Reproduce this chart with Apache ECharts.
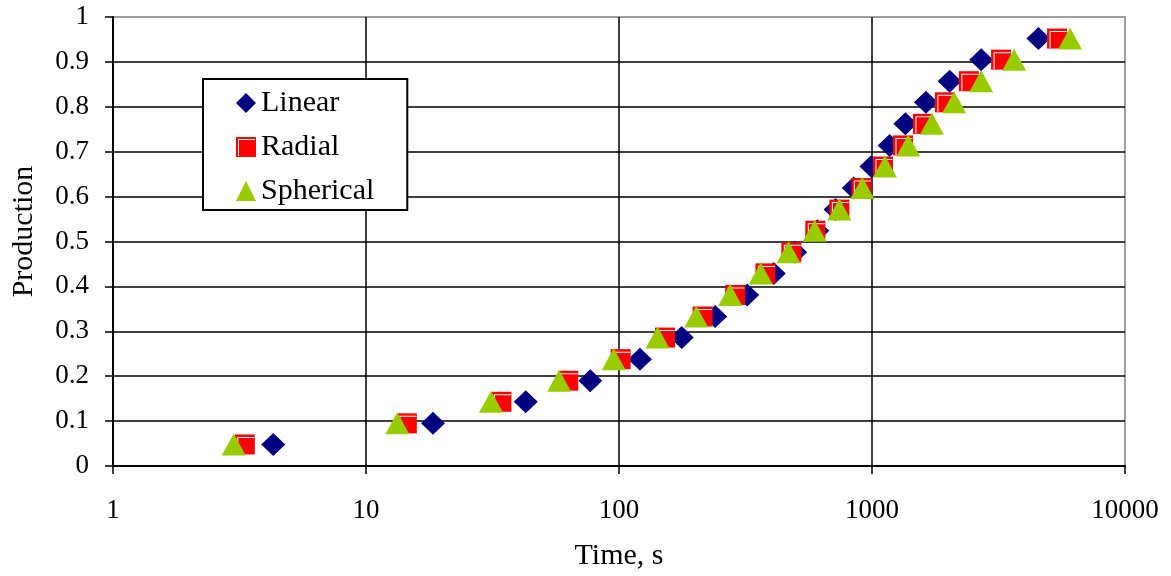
<!DOCTYPE html>
<html>
<head>
<meta charset="utf-8">
<script src="https://cdn.jsdelivr.net/npm/echarts@6/dist/echarts.min.js"></script>
<style>
html,body{margin:0;padding:0;background:#fff;}
#chart{width:1171px;height:576px;}
</style>
</head>
<body>
<div id="chart"></div>
<script>
// Production fraction (shared by all three series)
var production = [0.048, 0.095, 0.143, 0.190, 0.238, 0.286, 0.333, 0.381, 0.429, 0.476,
                  0.524, 0.571, 0.619, 0.667, 0.714, 0.762, 0.810, 0.857, 0.905, 0.952];
// Time, s for each series
var linearTime    = [4.3, 18.4, 42.8, 77, 121, 177, 240, 321, 409, 497,
                     608, 718, 847, 995, 1174, 1355, 1634, 2027, 2702, 4548];
var radialTime    = [3.32, 14.5, 34.3, 63, 101.5, 152, 214, 288, 379, 480,
                     597, 743, 908, 1105, 1326, 1590, 1941, 2415, 3238, 5390];
var sphericalTime = [3.0, 13.3, 31.2, 58, 95.3, 142, 202, 275, 363, 468,
                     593, 743, 916, 1125, 1391, 1725, 2113, 2702, 3646, 6064];
var seriesNames = ['Linear', 'Radial', 'Spherical'];
var xTickLabels = ['1', '10', '100', '1000', '10000'];
var yTickLabels = ['0', '0.1', '0.2', '0.3', '0.4', '0.5', '0.6', '0.7', '0.8', '0.9', '1'];

function pts(times) { return times.map(function (t, i) { return [t, production[i]]; }); }

var FONT = 'Liberation Serif';
var chart = echarts.init(document.getElementById('chart'));
var radialIcon = 'path://M0,0H20V20H0Z M2,2V19H3V3H19V2Z';

chart.setOption({
  animation: false,
  backgroundColor: '#fff',
  grid: {
    left: 113, right: 46, top: 17, bottom: 109,
    show: true, borderColor: '#808080', borderWidth: 1.5, backgroundColor: 'transparent'
  },
  legend: {
    orient: 'vertical',
    left: 203, top: 79,
    selectedMode: false,
    backgroundColor: '#fff',
    borderColor: '#000', borderWidth: 2, borderRadius: 0,
    padding: [9, 33, 4, 33],
    itemWidth: 20, itemHeight: 20, itemGap: 14,
    textStyle: { fontFamily: FONT, fontSize: 30, lineHeight: 30, color: '#000' },
    data: [
      { name: seriesNames[0], icon: 'diamond' },
      { name: seriesNames[1], icon: radialIcon },
      { name: seriesNames[2], icon: 'triangle' }
    ]
  },
  xAxis: {
    type: 'log', logBase: 10, min: 1, max: 10000,
    name: 'Time, s', nameLocation: 'middle', nameGap: 75,
    nameTextStyle: { fontFamily: FONT, fontSize: 30, color: '#000' },
    axisLine: { show: true, onZero: false, lineStyle: { color: '#000', width: 2 } },
    axisTick: { show: true, inside: false, length: 8, lineStyle: { color: '#000', width: 1.5 } },
    axisLabel: {
      fontFamily: FONT, fontSize: 27, color: '#000', margin: 31,
      formatter: function (v) {
        var idx = Math.round(Math.log10(v));
        return xTickLabels[idx] !== undefined ? xTickLabels[idx] : String(v);
      }
    },
    splitLine: { show: true, showMinLine: false, showMaxLine: false, lineStyle: { color: '#000', width: 1.5 } },
    minorTick: { show: false }, minorSplitLine: { show: false }
  },
  yAxis: {
    type: 'value', min: 0, max: 1, interval: 0.1,
    name: 'Production', nameLocation: 'middle', nameGap: 74, nameRotate: 90,
    nameTextStyle: { fontFamily: FONT, fontSize: 30, color: '#000', padding: [0, 0, 0, 20] },
    axisLine: { show: true, lineStyle: { color: '#000', width: 2 } },
    axisTick: { show: true, inside: false, length: 8, lineStyle: { color: '#000', width: 1.5 } },
    axisLabel: {
      fontFamily: FONT, fontSize: 27, color: '#000', margin: 24,
      formatter: function (v) {
        var idx = Math.round(v * 10);
        return yTickLabels[idx] !== undefined ? yTickLabels[idx] : String(v);
      }
    },
    splitLine: { show: true, showMinLine: false, showMaxLine: false, lineStyle: { color: '#000', width: 1.5 } }
  },
  series: [
    {
      name: seriesNames[0], type: 'scatter', data: pts(linearTime),
      symbol: 'diamond', symbolSize: [24, 23],
      itemStyle: { color: '#000080', opacity: 1 },
      emphasis: { disabled: true }, z: 2
    },
    {
      name: seriesNames[1], type: 'scatter', data: pts(radialTime),
      symbol: 'rect', symbolSize: 20,
      itemStyle: { color: '#ff0000', opacity: 1 },
      emphasis: { disabled: true }, z: 2
    },
    {
      name: 'RadialHighlight', type: 'scatter', data: pts(radialTime),
      symbol: 'path://M0,0V17H1V1H17V0Z', symbolSize: 17, symbolOffset: [1, 1],
      itemStyle: { color: '#ffffff', opacity: 1 },
      silent: true, emphasis: { disabled: true }, z: 2
    },
    {
      name: seriesNames[2], type: 'scatter', data: pts(sphericalTime),
      symbol: 'triangle', symbolSize: [24, 22],
      itemStyle: { color: '#99cc00', opacity: 1 },
      emphasis: { disabled: true }, z: 2
    }
  ]
});
</script>
</body>
</html>
